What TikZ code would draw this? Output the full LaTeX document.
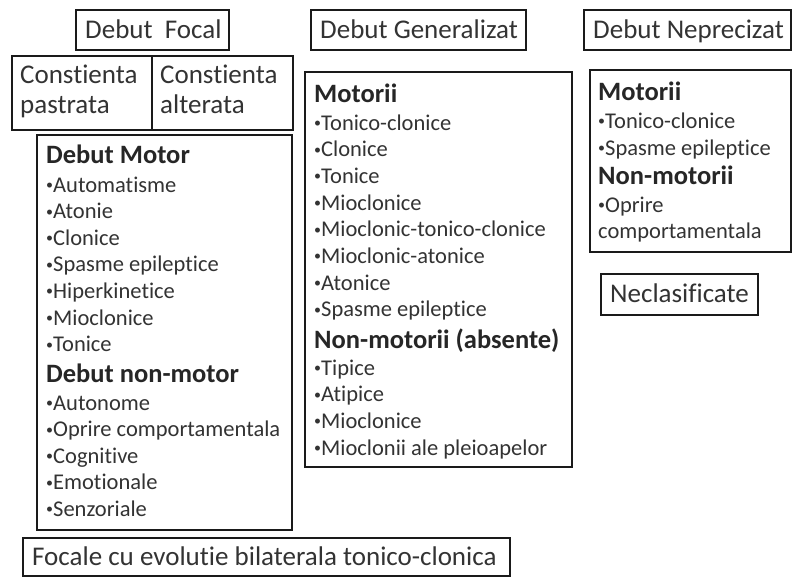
\documentclass[tikz,border=0pt]{standalone}
\usepackage{fontspec}
\setmainfont{Carlito}[Ligatures={NoCommon}]
\definecolor{txt}{HTML}{333333}
\definecolor{frame}{HTML}{1A1A1A}
\newcommand\bul{{\fontsize{14}{14}\selectfont\raisebox{2.6pt}{•}}}
\begin{document}
\begin{tikzpicture}[x=1pt,y=-1pt,
  box/.style={draw=frame,line width=2.6pt},
  ttl/.style={anchor=base west,inner sep=0pt,text=txt,font=\fontsize{27}{32}\selectfont},
  hd/.style={anchor=base west,inner sep=0pt,text=black!85,font=\fontsize{26.5}{31}\selectfont\bfseries},
  itm/.style={anchor=base west,inner sep=0pt,text=txt,font=\fontsize{22.5}{27}\selectfont}]
\useasboundingbox (0,0) rectangle (792,578);
\fill[white] (0,0) rectangle (792,578);
% boxes
\draw[box] (76,10) rectangle (229,50);
\draw[box] (12,56) rectangle (293,130);
\draw[box] (152,56) -- (152,130);
\draw[box] (37,135) rectangle (292,530);
\draw[box] (23,538) rectangle (510,576);
\draw[box] (311,10) rectangle (526,50);
\draw[box] (305,72) rectangle (572,467);
\draw[box] (584,10) rectangle (791,50);
\draw[box] (590,70) rectangle (791,252);
\draw[box] (601,274) rectangle (758,315);
% titles
\node[ttl] (tf) at (85,38) {Debut\ \ Focal};
\node[ttl] (c1a) at (20,83) {Constienta};
\node[ttl] (c1b) at (20,113) {pastrata};
\node[ttl] (c2a) at (160,83) {Constienta};
\node[ttl] (c2b) at (160,113) {alterata};
\node[ttl] (tg) at (320,38) {Debut Generalizat};
\node[ttl] (tn) at (593,38) {Debut Neprecizat};
\node[ttl] (nc) at (610,302) {Neclasificate};
\node[ttl] (fb) at (32,565) {Focale cu evolutie bilaterala tonico-clonica};
% focal list
\node[hd] (fh1) at (46,163) {Debut Motor};
\node[itm] (f1) at (46,192) {\bul Automatisme};
\node[itm] (f2) at (46,218.6) {\bul Atonie};
\node[itm] (f3) at (46,245.2) {\bul Clonice};
\node[itm] (f4) at (46,271.8) {\bul Spasme epileptice};
\node[itm] (f5) at (46,298.4) {\bul Hiperkinetice};
\node[itm] (f6) at (46,325) {\bul Mioclonice};
\node[itm] (f7) at (46,351.6) {\bul Tonice};
\node[hd] (fh2) at (46,382) {Debut non-motor};
\node[itm] (f8) at (46,410) {\bul Autonome};
\node[itm] (f9) at (46,436.6) {\bul Oprire comportamentala};
\node[itm] (f10) at (46,463.2) {\bul Cognitive};
\node[itm] (f11) at (46,489.8) {\bul Emotionale};
\node[itm] (f12) at (46,516.4) {\bul Senzoriale};
% generalized list
\node[hd] (gh1) at (314,102) {Motorii};
\node[itm] (g1) at (314,130) {\bul Tonico-clonice};
\node[itm] (g2) at (314,156.7) {\bul Clonice};
\node[itm] (g3) at (314,183.4) {\bul Tonice};
\node[itm] (g4) at (314,210.1) {\bul Mioclonice};
\node[itm] (g5) at (314,236.8) {\bul Mioclonic-tonico-clonice};
\node[itm] (g6) at (314,263.5) {\bul Mioclonic-atonice};
\node[itm] (g7) at (314,290.2) {\bul Atonice};
\node[itm] (g8) at (314,316.9) {\bul Spasme epileptice};
\node[hd] (gh2) at (314,348) {Non-motorii (absente)};
\node[itm] (g9) at (314,375) {\bul Tipice};
\node[itm] (g10) at (314,401.7) {\bul Atipice};
\node[itm] (g11) at (314,428.4) {\bul Mioclonice};
\node[itm] (g12) at (314,455.1) {\bul Mioclonii ale pleioapelor};
% unknown list
\node[hd] (nh1) at (598,100) {Motorii};
\node[itm] (n1) at (598,128) {\bul Tonico-clonice};
\node[itm] (n2) at (598,155) {\bul Spasme epileptice};
\node[hd] (nh2) at (598,184) {Non-motorii};
\node[itm] (n3) at (598,212) {\bul Oprire};
\node[itm] (n4) at (598,238.5) {comportamentala};
\end{tikzpicture}
\end{document}
